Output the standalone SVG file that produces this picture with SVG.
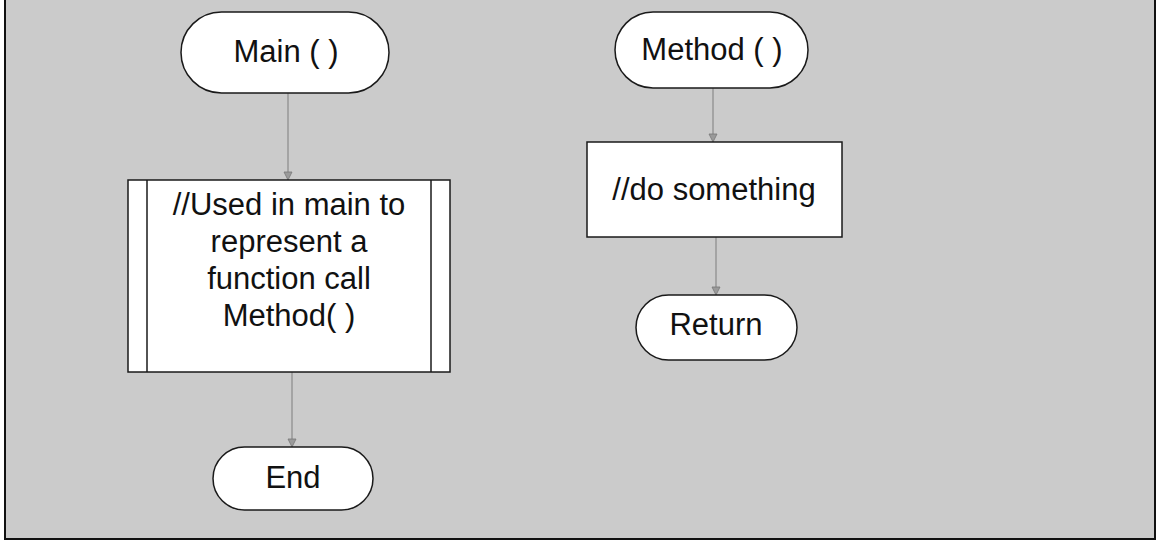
<svg xmlns="http://www.w3.org/2000/svg" width="1160" height="554" viewBox="0 0 1160 554">
<style>
.node{fill:#ffffff;stroke:#1a1a1a;stroke-width:1.5}
.txt{font-family:"Liberation Sans",Arial,sans-serif;font-size:31px;fill:#111;text-anchor:middle}
.conn{stroke:#8a8a8a;stroke-width:1.2;fill:none}
</style>
<defs>
<marker id="arr" markerWidth="10" markerHeight="10" refX="9" refY="5" orient="auto" markerUnits="userSpaceOnUse">
<path d="M1,1 L9,5 L1,9 Z" fill="#9a9a9a" stroke="#777" stroke-width="0.8"/>
</marker>
</defs>
<rect x="0" y="0" width="1160" height="554" fill="#ffffff"/>
<rect x="5" y="-2" width="1150" height="541" fill="#cbcbcb" stroke="#111" stroke-width="2"/>
<g id="connectors">
<line class="conn" x1="288" y1="93" x2="288" y2="180" marker-end="url(#arr)"/>
<line class="conn" x1="292" y1="372" x2="292" y2="447" marker-end="url(#arr)"/>
<line class="conn" x1="713" y1="88" x2="713" y2="142" marker-end="url(#arr)"/>
<line class="conn" x1="716" y1="237" x2="716" y2="295" marker-end="url(#arr)"/>
</g>
<g id="main">
<rect class="node" x="181" y="12" width="208" height="81" rx="40.5"/>
<text class="txt" x="286" y="62">Main ( )</text>
</g>
<g id="call">
<rect class="node" x="128" y="180" width="322" height="192"/>
<line x1="147" y1="180" x2="147" y2="372" stroke="#1a1a1a" stroke-width="1.5"/>
<line x1="431" y1="180" x2="431" y2="372" stroke="#1a1a1a" stroke-width="1.5"/>
<text class="txt" x="289" y="215">//Used in main to</text>
<text class="txt" x="289" y="252">represent a</text>
<text class="txt" x="289" y="289">function call</text>
<text class="txt" x="289" y="326">Method( )</text>
</g>
<g id="end">
<rect class="node" x="213" y="447" width="160" height="63" rx="31.5"/>
<text class="txt" x="293" y="488">End</text>
</g>
<g id="method">
<rect class="node" x="615" y="12" width="193" height="76" rx="38"/>
<text class="txt" x="712" y="60">Method ( )</text>
</g>
<g id="dosomething">
<rect class="node" x="587" y="142" width="255" height="95"/>
<text class="txt" x="714" y="200">//do something</text>
</g>
<g id="return">
<rect class="node" x="636" y="295" width="161" height="65" rx="32.5"/>
<text class="txt" x="716" y="335">Return</text>
</g>
</svg>
